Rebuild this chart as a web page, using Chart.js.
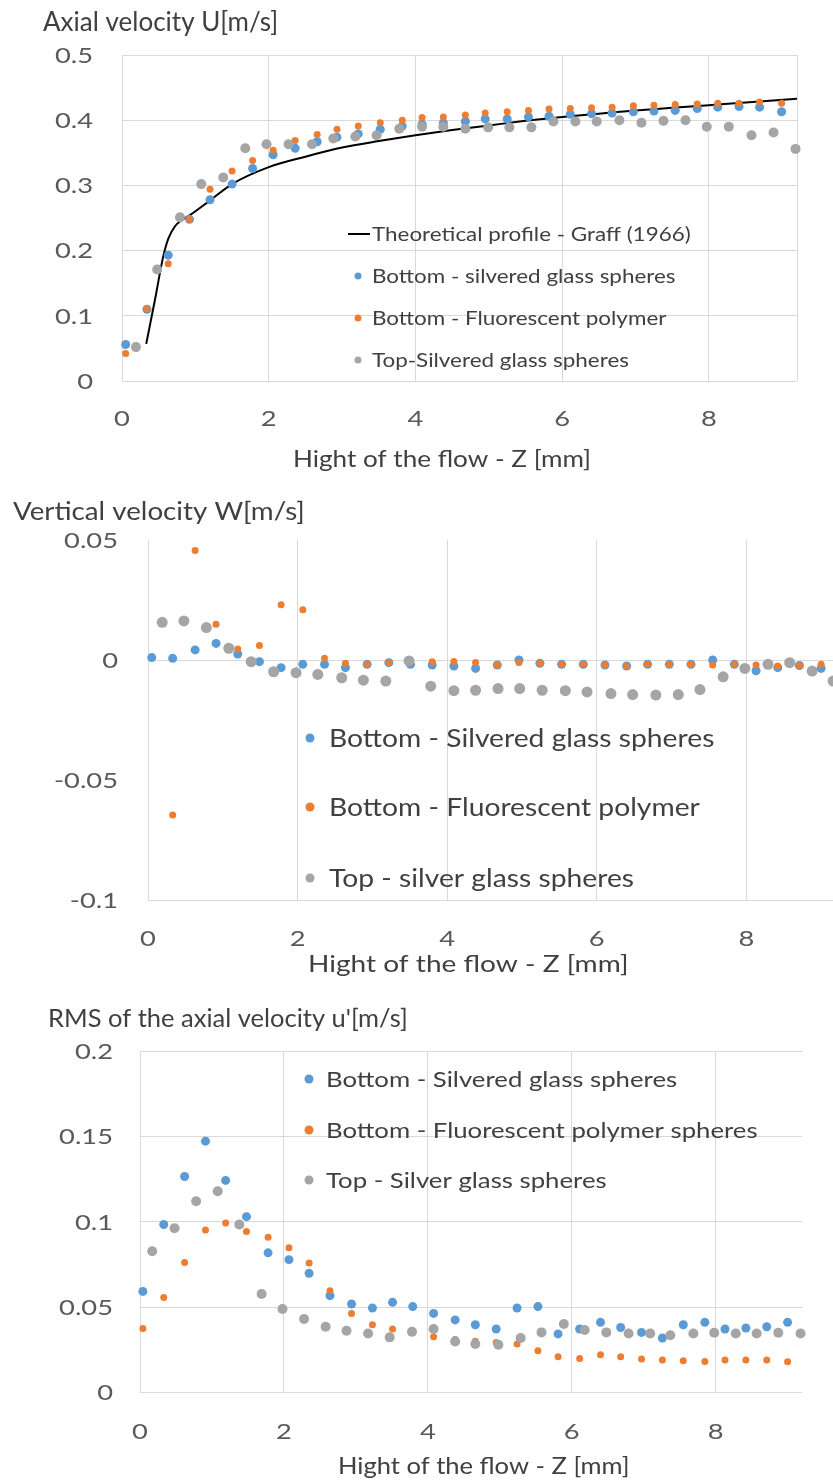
<!DOCTYPE html>
<html>
<head>
<meta charset="utf-8">
<script src="https://cdn.jsdelivr.net/npm/chart.js@4.4.1/dist/chart.umd.min.js"></script>
<style>
  html, body { margin: 0; padding: 0; background: #fff; overflow: hidden; width: 833px; height: 1481px; }
  .panel { position: absolute; left: 0; }
</style>
</head>
<body>
<div class="panel" style="top:0"><canvas id="axial" width="833" height="490"></canvas></div>
<div class="panel" style="top:490px"><canvas id="vertical" width="880" height="500"></canvas></div>
<div class="panel" style="top:990px"><canvas id="rms" width="833" height="491"></canvas></div>
<script>
// ---- Panel 1: axial velocity U [m/s] ----
var zBottomU = [0.05, 0.34, 0.63, 0.92, 1.20, 1.50, 1.78, 2.06, 2.36, 2.66, 2.93, 3.22, 3.52, 3.82, 4.09, 4.38,
                4.68, 4.95, 5.25, 5.54, 5.82, 6.11, 6.40, 6.68, 6.97, 7.25, 7.54, 7.84, 8.12, 8.41, 8.69, 8.99];
var uBottomSilver = [0.056, 0.110, 0.193, 0.248, 0.278, 0.302, 0.326, 0.347, 0.357, 0.367, 0.374, 0.379, 0.386, 0.391, 0.394, 0.396,
                     0.398, 0.402, 0.402, 0.405, 0.406, 0.409, 0.410, 0.411, 0.413, 0.414, 0.415, 0.418, 0.420, 0.421, 0.420, 0.413];
var uBottomFluo = [0.042, 0.111, 0.180, 0.248, 0.294, 0.322, 0.338, 0.354, 0.369, 0.378, 0.386, 0.391, 0.396, 0.400, 0.404, 0.405,
                   0.408, 0.411, 0.413, 0.415, 0.417, 0.418, 0.419, 0.420, 0.422, 0.423, 0.424, 0.425, 0.426, 0.426, 0.428, 0.426];
var zTopU = [0.19, 0.48, 0.79, 1.08, 1.38, 1.68, 1.97, 2.27, 2.59, 2.88, 3.18, 3.47, 3.78, 4.09, 4.38, 4.68,
             4.99, 5.28, 5.58, 5.88, 6.18, 6.47, 6.78, 7.08, 7.38, 7.68, 7.97, 8.27, 8.58, 8.88, 9.18];
var uTopSilver = [0.052, 0.171, 0.251, 0.302, 0.312, 0.357, 0.363, 0.363, 0.363, 0.372, 0.375, 0.377, 0.387, 0.390, 0.390, 0.387,
                  0.389, 0.389, 0.389, 0.398, 0.398, 0.398, 0.400, 0.396, 0.399, 0.400, 0.390, 0.390, 0.377, 0.381, 0.356];
var zTheory = [0.33, 0.45, 0.56, 0.63, 0.72, 0.79, 0.92, 1.2, 1.5, 2.0, 2.5, 3.0, 3.5, 4.0, 4.5, 5.0, 5.5, 6.0, 6.5, 7.0, 7.5, 8.0, 8.5, 9.2];
var uTheory = [0.057, 0.125, 0.190, 0.218, 0.237, 0.245, 0.254, 0.277, 0.302, 0.328, 0.344, 0.358, 0.368, 0.377, 0.385, 0.392,
               0.399, 0.405, 0.410, 0.415, 0.419, 0.423, 0.427, 0.433];

// ---- Panel 2: vertical velocity W [m/s] ----
var zBottomW = [0.05, 0.33, 0.63, 0.91, 1.20, 1.49, 1.78, 2.07, 2.36, 2.64, 2.93, 3.22, 3.51, 3.80, 4.09, 4.38,
                4.67, 4.96, 5.24, 5.53, 5.82, 6.11, 6.40, 6.68, 6.97, 7.26, 7.55, 7.84, 8.13, 8.42, 8.71, 9.00];
var wBottomSilver = [0.0010, 0.0007, 0.0042, 0.0069, 0.0025, -0.0007, -0.0032, -0.0018, -0.0018, -0.0032, -0.0018, -0.0011, -0.0018, -0.0021, -0.0025, -0.0035,
                     -0.0021, 0.0000, -0.0014, -0.0018, -0.0018, -0.0021, -0.0025, -0.0018, -0.0018, -0.0018, 0.0000, -0.0018, -0.0045, -0.0032, -0.0023, -0.0035];
var wBottomFluo = [null, -0.0646, 0.0456, 0.0149, 0.0046, 0.0060, 0.0230, 0.0209, 0.0007, -0.0014, -0.0018, -0.0011, -0.0010, -0.0007, -0.0006, -0.0010,
                   -0.0021, -0.0010, -0.0014, -0.0018, -0.0018, -0.0021, -0.0025, -0.0018, -0.0018, -0.0018, -0.0021, -0.0018, -0.0021, -0.0025, -0.0023, -0.0018];
var zTopW = [0.19, 0.48, 0.78, 1.08, 1.38, 1.68, 1.98, 2.27, 2.59, 2.88, 3.18, 3.49, 3.78, 4.09, 4.38, 4.68,
             4.97, 5.27, 5.58, 5.87, 6.19, 6.48, 6.79, 7.09, 7.38, 7.69, 7.98, 8.29, 8.58, 8.88, 9.16];
var wTopSilver = [0.0157, 0.0163, 0.0135, 0.0049, -0.0007, -0.0049, -0.0053, -0.0060, -0.0074, -0.0084, -0.0088, -0.0004, -0.0109, -0.0128, -0.0126, -0.0119,
                  -0.0119, -0.0126, -0.0128, -0.0133, -0.0140, -0.0144, -0.0146, -0.0144, -0.0123, -0.0070, -0.0035, -0.0018, -0.0011, -0.0046, -0.0088];

// ---- Panel 3: RMS of the axial velocity u' [m/s] ----
var zBottomRms = [0.04, 0.33, 0.62, 0.91, 1.19, 1.48, 1.78, 2.07, 2.35, 2.64, 2.94, 3.23, 3.51, 3.79, 4.08, 4.38,
                  4.66, 4.95, 5.24, 5.53, 5.81, 6.11, 6.40, 6.68, 6.97, 7.26, 7.55, 7.85, 8.13, 8.42, 8.71, 9.00];
var rmsBottomSilver = [0.0592, 0.0984, 0.1265, 0.1472, 0.1242, 0.1030, 0.0818, 0.0778, 0.0698, 0.0567, 0.0518, 0.0495, 0.0528, 0.0503, 0.0463, 0.0425,
                       0.0397, 0.0372, 0.0495, 0.0503, 0.0343, 0.0372, 0.0411, 0.0381, 0.0352, 0.0319, 0.0397, 0.0411, 0.0372, 0.0378, 0.0385, 0.0411];
var rmsBottomFluo = [0.0375, 0.0557, 0.0762, 0.0952, 0.0993, 0.0943, 0.0909, 0.0847, 0.0759, 0.0596, 0.0463, 0.0397, 0.0372, 0.0350, 0.0327, 0.0310,
                     0.0300, 0.0293, 0.0284, 0.0245, 0.0209, 0.0199, 0.0221, 0.0209, 0.0196, 0.0190, 0.0186, 0.0182, 0.0190, 0.0190, 0.0190, 0.0180];
var zTopRms = [0.17, 0.48, 0.78, 1.08, 1.38, 1.69, 1.98, 2.28, 2.58, 2.87, 3.17, 3.47, 3.78, 4.08, 4.38, 4.66,
               4.98, 5.29, 5.58, 5.89, 6.18, 6.48, 6.79, 7.09, 7.37, 7.69, 7.98, 8.28, 8.57, 8.87, 9.18];
var rmsTopSilver = [0.0827, 0.0962, 0.1120, 0.1179, 0.0984, 0.0577, 0.0489, 0.0430, 0.0385, 0.0362, 0.0346, 0.0323, 0.0356, 0.0372, 0.0299, 0.0284,
                    0.0280, 0.0319, 0.0352, 0.0401, 0.0366, 0.0352, 0.0346, 0.0346, 0.0335, 0.0346, 0.0350, 0.0346, 0.0346, 0.0350, 0.0346];

var xTicks = [0, 2, 4, 6, 8];
var uTicks = [0, 0.1, 0.2, 0.3, 0.4, 0.5];
var wTicks = [-0.1, -0.05, 0, 0.05];
var rmsTicks = [0, 0.05, 0.1, 0.15, 0.2];

var BLUE = '#5b9bd5', ORANGE = '#ed7d31', GRAY = '#a5a5a5';
var FONT = 'Lato';

function points(xs, ys) {
    return xs.map(function (x, i) { return { x: x, y: ys[i] }; });
}

// the scanned figure has its lettering a bit wider than the font, hence sx
function putText(ctx, text, x, y, size, sx, align) {
    ctx.save();
    ctx.font = size + 'px ' + FONT;
    ctx.textAlign = align;
    ctx.translate(x, y);
    ctx.scale(sx, 1);
    ctx.fillText(text, 0, 0);
    ctx.restore();
}

// tick labels, titles and the in-plot legend
var panelText = {
    id: 'panelText',
    afterDraw: function (chart, args, o) {
        var ctx = chart.ctx;
        var xs = chart.scales.x, ys = chart.scales.y;
        ctx.save();

        ctx.fillStyle = '#595959';
        ctx.textBaseline = 'middle';
        xs.ticks.forEach(function (t) {
            if (xTicks.indexOf(t.value) < 0) return;
            putText(ctx, String(t.value), xs.getPixelForValue(t.value), o.xLabelY, 21, 1.3, 'center');
        });
        ys.ticks.forEach(function (t) {
            putText(ctx, String(t.value), o.yLabelRight, ys.getPixelForValue(t.value) + 1, 21, 1.3, 'right');
        });

        ctx.fillStyle = '#404040';
        ctx.textBaseline = 'alphabetic';
        putText(ctx, o.title, o.title_[0], o.title_[1], o.title_[2], o.title_[3], 'left');
        putText(ctx, o.axisTitle, o.axis_[0], o.axis_[1], o.axis_[2], o.axis_[3], 'left');

        ctx.textBaseline = 'middle';
        chart.data.datasets.forEach(function (ds, i) {
            var y = o.legendY[i];
            if (ds.showLine) {
                ctx.strokeStyle = ds.borderColor;
                ctx.lineWidth = 2;
                ctx.beginPath();
                ctx.moveTo(o.symbolX - 10, y);
                ctx.lineTo(o.symbolX + 12, y);
                ctx.stroke();
            } else {
                ctx.fillStyle = ds.backgroundColor;
                ctx.beginPath();
                ctx.arc(o.symbolX, y, o.symbolR, 0, Math.PI * 2);
                ctx.fill();
            }
            ctx.fillStyle = '#404040';
            putText(ctx, ds.label, o.textX, y + 1, o.legendFont[0], o.legendFont[1], 'left');
        });
        ctx.restore();
    }
};

// area = chart area in canvas pixels
function makeScales(area, canvasH, xMax, yMin, yMax, yTicks, yGrid, edgeLine) {
    return {
        x: {
            type: 'linear', min: 0, max: xMax,
            afterBuildTicks: function (s) {
                var t = xTicks.slice();
                if (edgeLine) t.push(xMax);
                s.ticks = t.map(function (v) { return { value: v }; });
            },
            afterFit: function (s) { s.height = canvasH - area.bottom; },
            grid: { color: '#d9d9d9', drawTicks: false },
            border: { display: false },
            ticks: { display: false }
        },
        y: {
            type: 'linear', min: yMin, max: yMax,
            afterBuildTicks: function (s) {
                s.ticks = yTicks.map(function (v) { return { value: v }; });
            },
            afterFit: function (s) { s.width = area.left; },
            grid: {
                drawTicks: false,
                color: function (c) { return yGrid(c.tick.value) ? '#d9d9d9' : 'rgba(0,0,0,0)'; }
            },
            border: { display: false },
            ticks: { display: false }
        }
    };
}

function dotSet(label, xs, ys, color, r, order) {
    return {
        label: label, data: points(xs, ys),
        backgroundColor: color, borderColor: color, borderWidth: 0,
        pointRadius: r, pointHoverRadius: r, order: order, clip: false
    };
}

var allGrid = function () { return true; };

// Panel 1
var area1 = { left: 122, right: 797, top: 55, bottom: 381 };
new Chart(document.getElementById('axial').getContext('2d'), {
    type: 'scatter',
    data: {
        datasets: [{
            label: 'Theoretical profile - Graff (1966)',
            data: points(zTheory, uTheory),
            showLine: true, borderColor: '#000000', backgroundColor: '#000000',
            borderWidth: 2, pointRadius: 0, cubicInterpolationMode: 'monotone', order: 3
        },
            dotSet('Bottom - silvered glass spheres', zBottomU, uBottomSilver, BLUE, 4.5, 2),
            dotSet('Bottom - Fluorescent polymer', zBottomU, uBottomFluo, ORANGE, 3.5, 1),
            dotSet('Top-Silvered glass spheres', zTopU, uTopSilver, GRAY, 5, 0)
        ]
    },
    options: {
        responsive: false, animation: false,
        layout: { padding: { left: 0, top: area1.top, right: 833 - area1.right, bottom: 0 } },
        scales: makeScales(area1, 490, 9.2, 0, 0.5, uTicks, allGrid, true),
        plugins: {
            legend: { display: false }, tooltip: { enabled: false },
            panelText: {
                xLabelY: 419, yLabelRight: 93,
                title: 'Axial velocity U[m/s]', title_: [43, 31, 26, 1.0],
                axisTitle: 'Hight of the flow - Z [mm]', axis_: [293, 467, 22.5, 1.16],
                legendFont: [19.5, 1.15], legendY: [234, 276, 318, 360], symbolX: 358, symbolR: 3.5, textX: 372
            }
        }
    },
    plugins: [panelText]
});

// Panel 2
var area2 = { left: 148, right: 866, top: 50, bottom: 410 };
new Chart(document.getElementById('vertical').getContext('2d'), {
    type: 'scatter',
    data: {
        datasets: [
            dotSet('Bottom - Silvered glass spheres', zBottomW, wBottomSilver, BLUE, 4.5, 2),
            dotSet('Bottom - Fluorescent polymer', zBottomW, wBottomFluo, ORANGE, 3.5, 1),
            dotSet('Top - silver glass spheres', zTopW, wTopSilver, GRAY, 5.5, 0)
        ]
    },
    options: {
        responsive: false, animation: false,
        layout: { padding: { left: 0, top: area2.top, right: 880 - area2.right, bottom: 0 } },
        scales: makeScales(area2, 500, 9.6, -0.1, 0.05, wTicks,
            function (v) { return v === 0 || v === -0.1; }, false),
        plugins: {
            legend: { display: false }, tooltip: { enabled: false },
            panelText: {
                xLabelY: 449, yLabelRight: 118,
                title: 'Vertical velocity W[m/s]', title_: [13, 30, 25, 1.11],
                axisTitle: 'Hight of the flow - Z [mm]', axis_: [308, 482, 23, 1.22],
                legendFont: [25, 1.13], legendY: [248, 317, 388], symbolX: 310, symbolR: 4.5, textX: 329
            }
        }
    },
    plugins: [panelText]
});

// Panel 3
var area3 = { left: 140, right: 802, top: 61, bottom: 402.5 };
new Chart(document.getElementById('rms').getContext('2d'), {
    type: 'scatter',
    data: {
        datasets: [
            dotSet('Bottom - Silvered glass spheres', zBottomRms, rmsBottomSilver, BLUE, 4.5, 2),
            dotSet('Bottom - Fluorescent polymer spheres', zBottomRms, rmsBottomFluo, ORANGE, 3.5, 1),
            dotSet('Top - Silver glass spheres', zTopRms, rmsTopSilver, GRAY, 5, 0)
        ]
    },
    options: {
        responsive: false, animation: false,
        layout: { padding: { left: 0, top: area3.top, right: 833 - area3.right, bottom: 0 } },
        scales: makeScales(area3, 491, 9.2, 0, 0.2, rmsTicks, allGrid, false),
        plugins: {
            legend: { display: false }, tooltip: { enabled: false },
            panelText: {
                xLabelY: 442, yLabelRight: 113,
                title: "RMS of the axial velocity u'[m/s]", title_: [48, 37, 25.5, 1.0],
                axisTitle: 'Hight of the flow - Z [mm]', axis_: [338, 484, 23, 1.11],
                legendFont: [22, 1.17], legendY: [89, 140, 190], symbolX: 309, symbolR: 4.5, textX: 326
            }
        }
    },
    plugins: [panelText]
});
</script>
</body>
</html>
